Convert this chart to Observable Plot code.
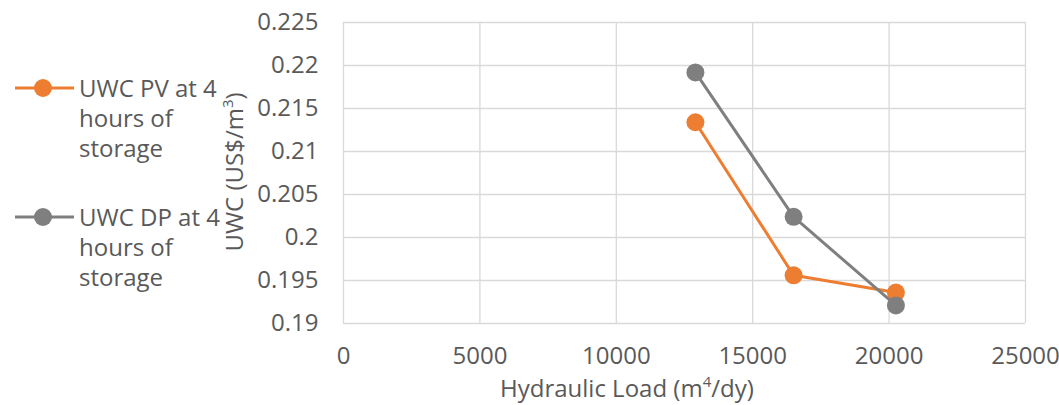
<!DOCTYPE html>
<html>
<head>
<meta charset="utf-8">
<script src="https://cdn.jsdelivr.net/npm/d3@7"></script>
<script src="https://cdn.jsdelivr.net/npm/@observablehq/plot@0.6"></script>
<style>
  html, body { margin: 0; padding: 0; background: #fff; }
  #wrap { position: relative; width: 1059px; height: 405px; font-family: "Open Sans", sans-serif; color: #595959; overflow: hidden; }
  #wrap svg { position: absolute; left: 0; top: 0; }
  .lbl { position: absolute; font-size: 24px; color: #595959; white-space: nowrap; line-height: 1; }
  .leg { position: absolute; font-size: 24px; color: #595959; line-height: 30px; white-space: nowrap; }
  .legsym { position: absolute; }
</style>
</head>
<body>
<div id="wrap"></div>
<script>
// Data
const hydraulicLoad = [12900, 16500, 20250];
const uwcPV = [0.2134, 0.1956, 0.1936];
const uwcDP = [0.2192, 0.2024, 0.1921];
const seriesNames = ["UWC PV at 4 hours of storage", "UWC DP at 4 hours of storage"];
const xTicks = [0, 5000, 10000, 15000, 20000, 25000];
const yTicks = [0.19, 0.195, 0.2, 0.205, 0.21, 0.215, 0.22, 0.225];
const colors = ["#ED7D31", "#7F7F7F"];

const pv = hydraulicLoad.map((x, i) => ({x, y: uwcPV[i]}));
const dp = hydraulicLoad.map((x, i) => ({x, y: uwcDP[i]}));

const chart = Plot.plot({
  width: 1059,
  height: 405,
  marginLeft: 343,
  marginRight: 34,
  marginTop: 22,
  marginBottom: 82,
  style: {fontFamily: "'Open Sans', sans-serif", fontSize: "24px", color: "#595959", background: "#fff"},
  x: {domain: [0, 25000], ticks: xTicks, label: null},
  y: {domain: [0.19, 0.225], ticks: yTicks, label: null},
  marks: [
    Plot.gridX(xTicks, {stroke: "#D9D9D9", strokeOpacity: 1, strokeWidth: 1.3}),
    Plot.gridY(yTicks, {stroke: "#D9D9D9", strokeOpacity: 1, strokeWidth: 1.3}),
    Plot.axisX(xTicks, {tickSize: 0, tickPadding: 23, tickFormat: d => String(d), fill: "#595959", fontSize: 24}),
    Plot.axisY(yTicks, {tickSize: 0, tickPadding: 25, tickFormat: d => String(+d.toFixed(3)), fill: "#595959", fontSize: 24}),
    Plot.line(pv, {x: "x", y: "y", stroke: colors[0], strokeWidth: 3}),
    Plot.dot(pv, {x: "x", y: "y", fill: colors[0], r: 9}),
    Plot.line(dp, {x: "x", y: "y", stroke: colors[1], strokeWidth: 3}),
    Plot.dot(dp, {x: "x", y: "y", fill: colors[1], r: 9})
  ]
});

const wrap = document.getElementById("wrap");
wrap.appendChild(chart);

// Axis titles
const xt = document.createElement("div");
xt.className = "lbl";
xt.innerHTML = "Hydraulic Load (m<sup style='font-size:15px;vertical-align:10px'>4</sup>/dy)";
xt.style.left = "500px";
xt.style.top = "374px";
wrap.appendChild(xt);

const yt = document.createElement("div");
yt.className = "lbl";
yt.innerHTML = "UWC (US$/m<sup style='font-size:15px;vertical-align:10px'>3</sup>)";
yt.style.left = "233px";
yt.style.top = "172px";
yt.style.transform = "translate(-50%, -50%) rotate(-90deg)";
wrap.appendChild(yt);

// Legend
const legendY = [88, 217];
seriesNames.forEach((name, i) => {
  const s = document.createElementNS("http://www.w3.org/2000/svg", "svg");
  s.setAttribute("width", 64); s.setAttribute("height", 22);
  s.setAttribute("class", "legsym");
  s.style.left = "13px"; s.style.top = (legendY[i] - 11) + "px";
  s.innerHTML = `<line x1="2" x2="61" y1="11" y2="11" stroke="${colors[i]}" stroke-width="3"/><circle cx="30" cy="11" r="9" fill="${colors[i]}"/>`;
  wrap.appendChild(s);
  const t = document.createElement("div");
  t.className = "leg";
  t.style.left = "79px";
  t.style.top = (legendY[i] - 15) + "px";
  const parts = name.split(" ");
  t.innerHTML = parts.slice(0, 4).join(" ") + "<br>" + parts.slice(4, 6).join(" ") + "<br>" + parts.slice(6).join(" ");
  wrap.appendChild(t);
});
</script>
</body>
</html>
